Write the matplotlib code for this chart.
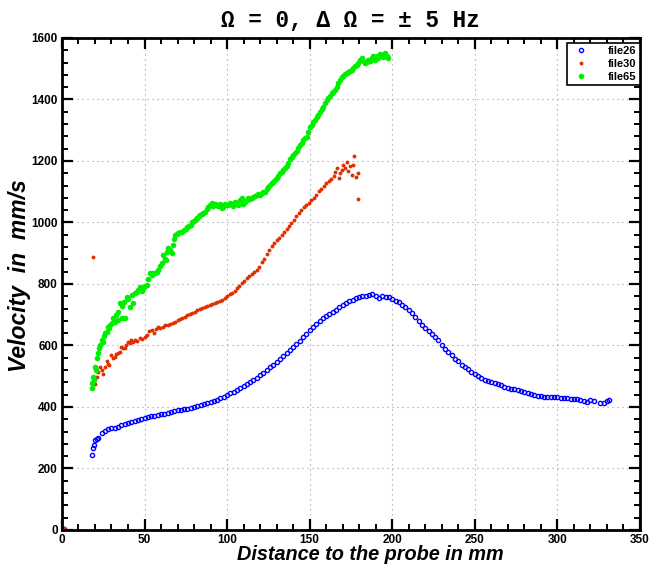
import matplotlib
matplotlib.use("Agg")
import matplotlib.pyplot as plt
from matplotlib.ticker import MultipleLocator

# file26 (blue, hollow circles)
x26 = [1, 18, 18.6, 19.4, 20, 21, 22, 24, 26, 28, 30, 32, 34, 36, 38, 40, 42, 44, 46, 48,
       50, 52, 54, 56, 58, 60, 62, 64, 66, 68, 70, 72, 74, 76, 78, 80, 82, 84, 86, 88,
       90, 92, 94, 96, 98, 100, 102, 104, 106, 108, 110, 112, 114, 116, 118, 120, 122, 124, 126, 128,
       130, 132, 134, 136, 138, 140, 142, 144, 146, 148, 150, 152, 154, 156, 158, 160, 162, 164, 166, 168,
       170, 172, 174, 176, 178, 180, 182, 184, 186, 188, 190, 192, 194, 196, 198, 200, 202, 204, 206, 208,
       210, 212, 214, 216, 218, 220, 222, 224, 226, 228, 230, 232, 234, 236, 238, 240, 242, 244, 246, 248,
       250, 252, 254, 256, 258, 260, 262, 264, 266, 268, 270, 272, 274, 276, 278, 280, 282, 284, 286, 288,
       290, 292, 294, 296, 298, 300, 302, 304, 306, 308, 310, 312, 314, 316, 318, 320, 322,
       326, 328, 330, 331]
v26 = [3, 244, 266, 276, 293, 296, 300, 314, 322, 327, 331, 333, 336, 340, 344, 349, 352, 355, 358, 362,
       365, 368, 370, 372, 374, 376, 378, 380, 383, 386, 389, 391, 393, 395, 397, 400, 403, 406, 409, 413,
       416, 419, 424, 429, 434, 439, 445, 450, 456, 462, 468, 474, 481, 488, 495, 503, 512, 521, 530, 538,
       547, 556, 566, 575, 585, 595, 605, 616, 627, 638, 650, 661, 670, 679, 688, 696, 703, 710, 717, 725,
       732, 738, 744, 748, 753, 757, 760, 762, 765, 768, 762, 756, 760, 757, 757, 752, 745, 740, 733, 725,
       714, 705, 693, 678, 666, 656, 646, 637, 627, 617, 603, 590, 580, 569, 557, 549, 538, 530, 522, 513,
       506, 500, 494, 489, 485, 481, 478, 474, 470, 466, 463, 460, 457, 454, 451, 448, 444, 441, 438, 436,
       435, 434, 434, 432, 431, 431, 429, 428, 428, 427, 426, 425, 423, 421, 415, 423, 420,
       413, 414, 418, 422]

# file30 (red)
x30 = [1, 19, 20, 21, 22, 23, 24, 25, 26, 27, 28, 28.7, 30, 31, 32, 33, 34, 35, 36, 37, 38, 39,
       40, 41, 42, 43, 44, 45.5, 47, 48.5, 50, 51.5, 53, 54.5, 56, 57, 58, 59.5, 61, 62.5,
       64, 65.5, 67, 68.5, 70, 71.5, 73, 74.5, 76, 77.5, 79, 80.5, 82, 83.5, 85, 86.5, 88, 89.5,
       91, 92.5, 94, 95.5, 97, 98.5, 100, 101.5, 103, 104.5, 106, 107.5, 109, 110.5, 112, 113.5,
       115, 116.5, 118, 119.5, 121, 122.5, 124, 125.5, 127, 128.5, 130, 131.5, 133, 134.5, 136, 137.5,
       139, 140.5, 142, 143.5, 145, 146.5, 148, 149.5, 151, 152.5, 154, 155.5, 157, 158.5, 160, 161.5,
       163, 164.5, 165.5, 166.5, 167.5, 168.5, 169.5, 170.5, 171.5, 172.5, 173.5, 174.5, 175.5, 176.5,
       177, 178, 179, 179.5]
v30 = [5, 889, 475, 499, 515, 529, 520, 507, 531, 551, 540, 537, 569, 560, 564, 572, 575, 580, 596, 593, 591, 600,
       612, 608, 618, 612, 618, 614, 623, 620, 629, 633, 647, 651, 640, 652, 661, 657, 661, 665,
       667, 670, 674, 677, 683, 685, 688, 693, 699, 702, 707, 709, 715, 718, 721, 724, 728, 732,
       736, 738, 742, 745, 748, 755, 760, 766, 772, 778, 787, 795, 802, 809, 818, 826,
       833, 840, 847, 856, 870, 882, 897, 910, 925, 934, 944, 951, 960, 969, 979, 990,
       999, 1008, 1020, 1030, 1040, 1049, 1057, 1064, 1072, 1080, 1088, 1102, 1110, 1120, 1127, 1134,
       1142, 1150, 1163, 1176, 1145, 1160, 1172, 1187, 1178, 1198, 1166, 1183, 1155, 1187,
       1216, 1149, 1076, 1160]

# file65 (green)
x65 = [18.0, 18.5, 19.0, 19.5, 20.0, 20.5, 21.4, 22.0, 22.6, 23.3, 24.0, 24.7, 25.4, 26.2, 27.1, 27.9,
       28.7, 29.4, 30.1, 31.0, 32.1, 33.0, 34.1, 34.1, 35.1, 36.1, 36.5, 37.5, 38.1, 39.2, 40.0, 41.2,
       42.2, 43.2, 44.0, 45.2, 46.2, 47.2, 48.2, 49.2, 50.2, 51.3, 52.2, 53.3, 54.3, 55.3, 56.3, 57.3,
       58.3, 59.3, 60.4, 61.4, 62.2, 63.0, 63.7, 64.4, 65.4, 66.4, 67.5, 68.0, 68.4, 69.5, 70.5, 71.5,
       72.5, 74.0, 75.0, 76.0, 77.0, 78.0, 79.0, 80.0, 81.0, 82.0, 83.0, 83.6, 84.6, 85.6, 86.6, 87.6,
       88.7, 89.7, 90.7, 91.7, 92.7, 93.7, 94.7, 95.7, 96.7, 97.7, 98.7, 99.8, 100.8, 101.8, 102.8, 103.8,
       104.8, 105.8, 106.8, 107.8, 108.8, 109.9, 110.9, 111.9, 112.9, 113.9, 114.9, 115.9, 116.9, 117.9,
       118.9, 119.9, 120.9, 121.9, 122.9, 124.0, 125.0, 126.0, 127.0, 128.0, 129.0, 130.0, 131.0, 132.0,
       133.0, 134.1, 135.1, 136.1, 137.1, 138.1, 139.1, 140.1, 141.1, 142.1, 143.2, 144.2, 145.2, 146.2,
       147.2, 148.2, 149.2, 150.2, 151.2, 152.2, 153.2, 154.3, 155.3, 156.3, 157.3, 158.3, 159.3, 160.3,
       161.3, 162.3, 163.3, 164.3, 165.3, 166.4, 167.4, 168.4, 169.4, 170.4, 171.4, 172.4, 173.4, 174.4,
       175.4, 176.5, 177.5, 178.5, 179.5, 180.5, 181.5, 182.5, 183.5, 184.5, 185.6, 186.6, 187.6, 188.6,
       189.6, 190.6, 191.6, 192.6, 193.6, 194.6, 195.6, 196.6, 197.6]
v65 = [463, 478, 499, 487, 531, 520, 558, 575, 591, 600, 618, 612, 631, 640, 645, 660,
       656, 668, 672, 690, 677, 700, 683, 710, 737, 688, 730, 740, 688, 759, 750, 726,
       764, 737, 770, 775, 780, 791, 778, 786, 792, 797, 815, 835, 830, 836, 835, 840,
       846, 860, 867, 894, 882, 878, 905, 916, 910, 900, 927, 945, 959, 962, 966, 970,
       968, 975, 980, 985, 990, 993, 1000, 1005, 1010, 1015, 1020, 1024, 1028, 1030, 1035, 1045,
       1050, 1058, 1062, 1052, 1060, 1057, 1055, 1060, 1048, 1051, 1060, 1056, 1058, 1062, 1060, 1055,
       1068, 1062, 1058, 1072, 1078, 1060, 1068, 1073, 1080, 1076, 1078, 1084, 1086, 1088,
       1092, 1089, 1095, 1098, 1100, 1110, 1115, 1122, 1128, 1132, 1138, 1146, 1152, 1160,
       1165, 1170, 1176, 1185, 1193, 1205, 1212, 1220, 1226, 1231, 1242, 1252, 1260, 1268,
       1274, 1279, 1295, 1311, 1318, 1326, 1333, 1342, 1350, 1360, 1368, 1377, 1388, 1398,
       1405, 1412, 1420, 1425, 1431, 1442, 1453, 1464, 1474, 1478, 1482, 1485, 1490, 1493,
       1496, 1502, 1508, 1512, 1520, 1528, 1534, 1526, 1518, 1523, 1530, 1525, 1534, 1540,
       1528, 1540, 1535, 1548, 1545, 1538, 1550, 1540, 1534]

plt.rcParams['font.family'] = ['Liberation Sans', 'DejaVu Sans']

fig = plt.figure(figsize=(6.59, 5.67), dpi=100)
ax = fig.add_axes([0.094, 0.0653, 0.877, 0.8677])

ax.plot(x26, v26, 'o', ls='none', ms=3.0, mfc='none', mec='#0000ff', mew=1.0, label='file26')
ax.plot(x30, v30, 'o', ls='none', ms=2.8, color='#e03000', mew=0, label='file30')
ax.plot(x65, v65, 'o', ls='none', ms=4.0, color='#00ee00', mew=0, label='file65')

ax.set_xlim(0, 350)
ax.set_ylim(0, 1600)
ax.xaxis.set_major_locator(MultipleLocator(50))
ax.xaxis.set_minor_locator(MultipleLocator(10))
ax.yaxis.set_major_locator(MultipleLocator(200))
ax.yaxis.set_minor_locator(MultipleLocator(40))
ax.tick_params(which='both', direction='in', top=True, right=True, color='black')
ax.tick_params(which='major', length=8, width=1.6, labelsize=8.5, pad=3)
ax.tick_params(which='minor', length=4.5, width=1.4)
for lab in ax.get_xticklabels() + ax.get_yticklabels():
    lab.set_fontweight('bold')
for sp in ax.spines.values():
    sp.set_linewidth(2)

ax.grid(True, which='major', color='#999999', ls=(0, (1, 3.5)), lw=0.8)

ax.set_xlabel('Distance to the probe in mm', fontsize=14.3, fontweight='bold', fontstyle='italic')
ax.xaxis.set_label_coords(0.533, -0.031)
ax.set_ylabel('Velocity  in  mm/s', fontsize=16.5, fontweight='bold', fontstyle='italic')
ax.yaxis.set_label_coords(-0.053, 0.516)
ax.set_title('Ω = 0, Δ Ω = ± 5 Hz', fontsize=16.3, fontweight='bold',
             family=['Liberation Mono', 'DejaVu Sans Mono'], pad=8)

leg = ax.legend(loc='upper right', bbox_to_anchor=(1.0, 0.99), borderaxespad=0,
                prop={'weight': 'bold', 'size': 8}, fancybox=False, framealpha=1,
                edgecolor='black', handlelength=2.0, handletextpad=1.4, markerfirst=True,
                borderpad=0.3, labelspacing=0.25)
leg.get_frame().set_linewidth(1.2)

fig.savefig('out.png', dpi=100)
